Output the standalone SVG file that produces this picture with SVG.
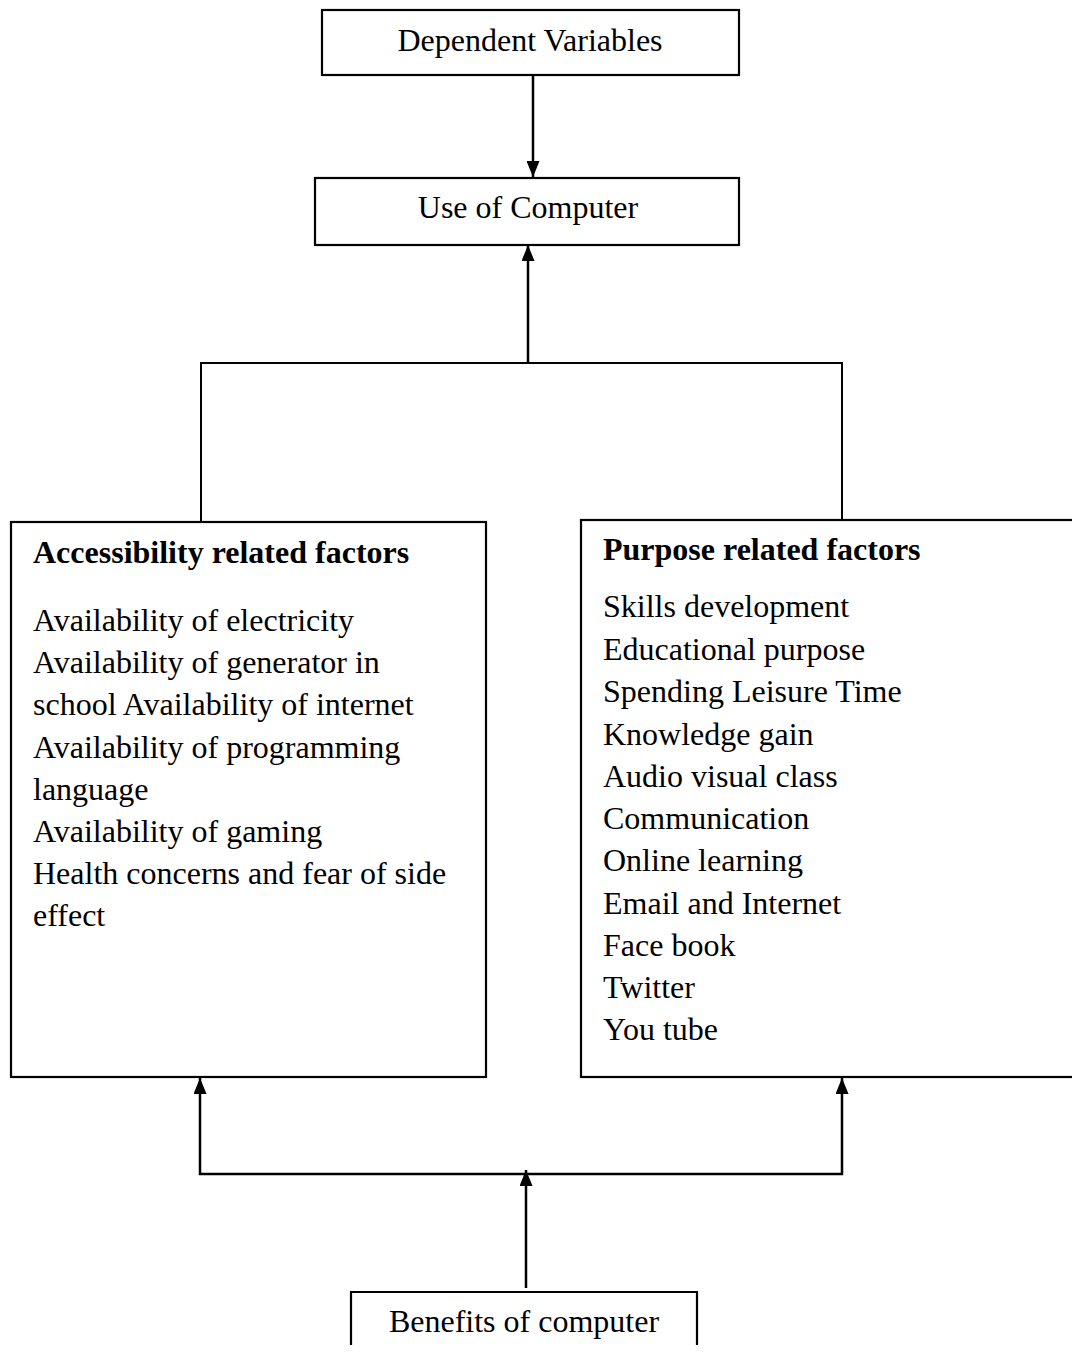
<svg xmlns="http://www.w3.org/2000/svg" width="1072" height="1353" viewBox="0 0 1072 1353">
<style>
.box{fill:#fff;stroke:#000;stroke-width:2.2}
.t{font-family:"Liberation Serif","Times New Roman",serif;font-size:32px;fill:#000}
.c{text-anchor:middle}
.b{font-weight:bold}
.ln{fill:none;stroke:#000;stroke-width:2}
.ar{fill:none;stroke:#000;stroke-width:2.5}
</style>
<defs>
<marker id="ah2" markerWidth="16" markerHeight="13" refX="16" refY="6.5" orient="auto-start-reverse" markerUnits="userSpaceOnUse" viewBox="0 0 16 13">
<path d="M0,0 L16,6.5 L0,13 Z" fill="#000"/>
</marker>
</defs>
<rect width="1072" height="1353" fill="#fff"/>
<g id="connectors">
<line class="ar" x1="533" y1="75" x2="533" y2="177" marker-end="url(#ah2)"/>
<polyline class="ln" points="201,522 201,363 842,363 842,520"/>
<line class="ar" x1="528" y1="363" x2="528" y2="245" marker-end="url(#ah2)"/>
<polyline class="ar" points="200,1078 200,1174 842,1174 842,1078" marker-start="url(#ah2)" marker-end="url(#ah2)"/>
<line class="ar" x1="526" y1="1288" x2="526" y2="1170" marker-end="url(#ah2)"/>
</g>
<g id="dependent-variables">
<rect class="box" x="322" y="10" width="417" height="65"/>
<text class="t c" x="530" y="51">Dependent Variables</text>
</g>
<g id="use-of-computer">
<rect class="box" x="315" y="178" width="424" height="67"/>
<text class="t c" x="528" y="218">Use of Computer</text>
</g>
<g id="accessibility">
<rect class="box" x="11" y="522" width="475" height="555"/>
<text class="t b" x="33" y="563">Accessibility related factors</text>
<text class="t" x="33" y="631">Availability of electricity</text>
<text class="t" x="33" y="673">Availability of generator in</text>
<text class="t" x="33" y="715">school Availability of internet</text>
<text class="t" x="33" y="758">Availability of programming</text>
<text class="t" x="33" y="800">language</text>
<text class="t" x="33" y="842">Availability of gaming</text>
<text class="t" x="33" y="884">Health concerns and fear of side</text>
<text class="t" x="33" y="926">effect</text>
</g>
<g id="purpose">
<rect class="box" x="581" y="520" width="500" height="557"/>
<text class="t b" x="603" y="560">Purpose related factors</text>
<text class="t" x="603" y="617">Skills development</text>
<text class="t" x="603" y="660">Educational purpose</text>
<text class="t" x="603" y="702">Spending Leisure Time</text>
<text class="t" x="603" y="745">Knowledge gain</text>
<text class="t" x="603" y="787">Audio visual class</text>
<text class="t" x="603" y="829">Communication</text>
<text class="t" x="603" y="871">Online learning</text>
<text class="t" x="603" y="914">Email and Internet</text>
<text class="t" x="603" y="956">Face book</text>
<text class="t" x="603" y="998">Twitter</text>
<text class="t" x="603" y="1040">You tube</text>
</g>
<g id="benefits">
<polyline class="box" points="351,1345 351,1292 697,1292 697,1345" style="fill:none"/>
<text class="t c" x="524" y="1332">Benefits of computer</text>
</g>
</svg>
